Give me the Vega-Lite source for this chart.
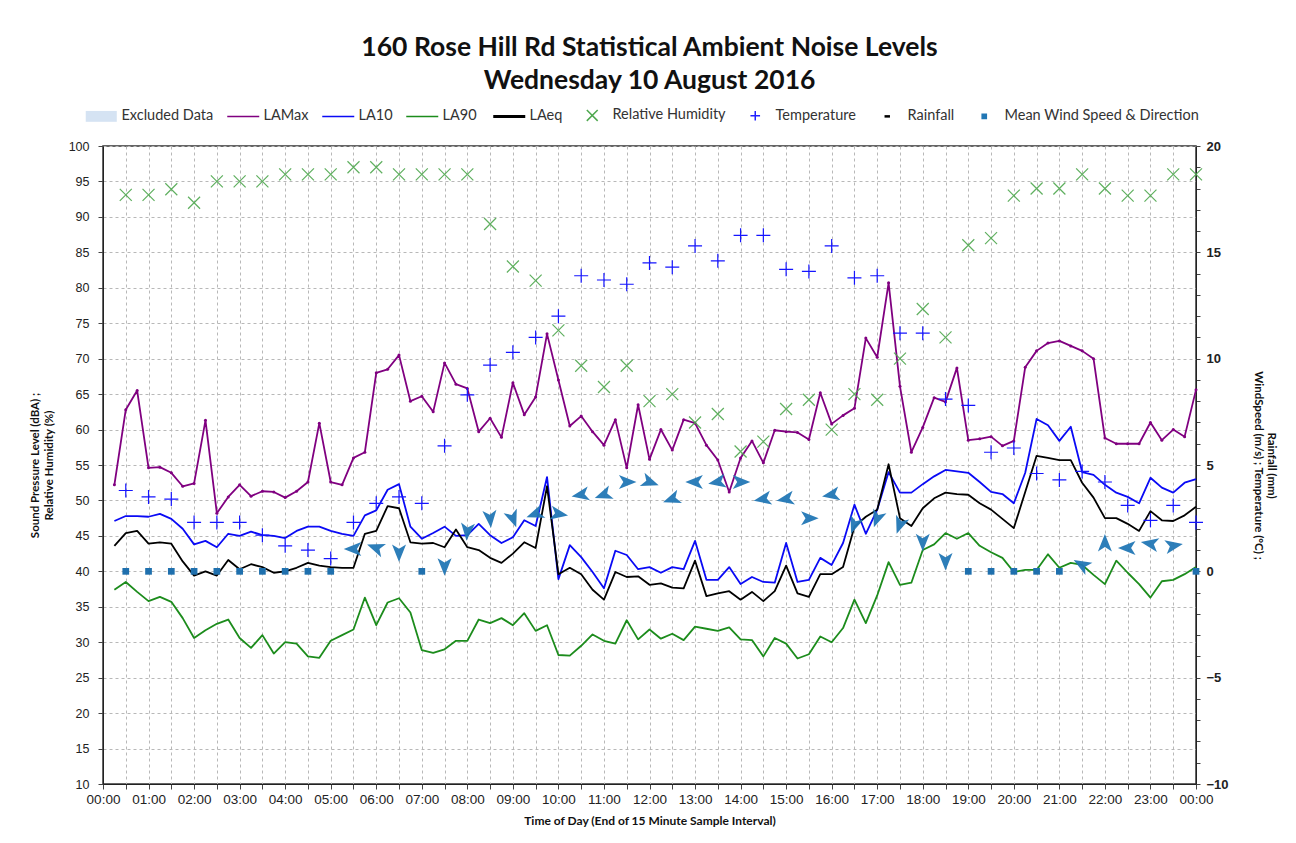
{
  "$schema": "https://vega.github.io/schema/vega-lite/v6.json",
  "width": 1093,
  "height": 638,
  "autosize": {"type": "none"},
  "padding": {"left": 103, "top": 146, "right": 100, "bottom": 59},
  "background": "white",
  "title": {
    "text": ["160 Rose Hill Rd Statistical Ambient Noise Levels", "Wednesday 10 August 2016"],
    "font": "Lato", "fontSize": 26.5, "fontWeight": "bold", "color": "#111",
    "lineHeight": 33, "anchor": "middle", "frame": "group", "offset": 14
  },
  "config": {
    "view": {"stroke": "#333", "strokeWidth": 1.5},
    "axis": {
      "labelFont": "Liberation Sans", "labelFontSize": 12.5, "labelColor": "#222",
      "titleFont": "Lato", "titleFontWeight": "bold", "titleFontSize": 11.5, "titleColor": "#111",
      "domainColor": "#222", "tickColor": "#444"
    }
  },
  "datasets": {
    "noise": [
      {"t":0.25,"LAMax":52.2,"LA10":47.1,"LA90":37.4,"LAeq":43.6},
      {"t":0.5,"LAMax":62.8,"LA10":47.8,"LA90":38.5,"LAeq":45.4},
      {"t":0.75,"LAMax":65.5,"LA10":47.8,"LA90":37.1,"LAeq":45.7},
      {"t":1.0,"LAMax":54.6,"LA10":47.7,"LA90":35.8,"LAeq":43.9},
      {"t":1.25,"LAMax":54.7,"LA10":48.1,"LA90":36.4,"LAeq":44.1},
      {"t":1.5,"LAMax":53.9,"LA10":47.4,"LA90":35.7,"LAeq":43.9},
      {"t":1.75,"LAMax":52.0,"LA10":46.0,"LA90":33.4,"LAeq":41.4},
      {"t":2.0,"LAMax":52.4,"LA10":43.8,"LA90":30.6,"LAeq":39.4},
      {"t":2.25,"LAMax":61.3,"LA10":44.3,"LA90":31.7,"LAeq":40.0},
      {"t":2.5,"LAMax":48.2,"LA10":43.4,"LA90":32.6,"LAeq":39.4},
      {"t":2.75,"LAMax":50.5,"LA10":45.3,"LA90":33.2,"LAeq":41.6},
      {"t":3.0,"LAMax":52.2,"LA10":45.0,"LA90":30.6,"LAeq":40.3},
      {"t":3.25,"LAMax":50.6,"LA10":45.6,"LA90":29.2,"LAeq":41.0},
      {"t":3.5,"LAMax":51.3,"LA10":45.1,"LA90":31.0,"LAeq":40.6},
      {"t":3.75,"LAMax":51.2,"LA10":45.0,"LA90":28.4,"LAeq":39.8},
      {"t":4.0,"LAMax":50.4,"LA10":44.7,"LA90":30.0,"LAeq":40.0},
      {"t":4.25,"LAMax":51.3,"LA10":45.7,"LA90":29.8,"LAeq":40.5},
      {"t":4.5,"LAMax":52.6,"LA10":46.3,"LA90":28.0,"LAeq":41.2},
      {"t":4.75,"LAMax":60.9,"LA10":46.3,"LA90":27.8,"LAeq":40.8},
      {"t":5.0,"LAMax":52.6,"LA10":45.7,"LA90":30.2,"LAeq":40.6},
      {"t":5.25,"LAMax":52.2,"LA10":45.3,"LA90":31.0,"LAeq":40.5},
      {"t":5.5,"LAMax":56.0,"LA10":45.0,"LA90":31.8,"LAeq":40.5},
      {"t":5.75,"LAMax":56.8,"LA10":47.9,"LA90":36.3,"LAeq":45.3},
      {"t":6.0,"LAMax":68.0,"LA10":48.6,"LA90":32.4,"LAeq":45.7},
      {"t":6.25,"LAMax":68.5,"LA10":51.5,"LA90":35.6,"LAeq":49.2},
      {"t":6.5,"LAMax":70.5,"LA10":52.3,"LA90":36.2,"LAeq":48.9},
      {"t":6.75,"LAMax":64.0,"LA10":46.3,"LA90":34.2,"LAeq":44.1},
      {"t":7.0,"LAMax":64.7,"LA10":44.6,"LA90":28.9,"LAeq":43.9},
      {"t":7.25,"LAMax":62.5,"LA10":45.4,"LA90":28.5,"LAeq":44.0},
      {"t":7.5,"LAMax":69.4,"LA10":46.3,"LA90":29.0,"LAeq":43.4},
      {"t":7.75,"LAMax":66.4,"LA10":45.0,"LA90":30.2,"LAeq":45.9},
      {"t":8.0,"LAMax":65.8,"LA10":45.1,"LA90":30.2,"LAeq":43.4},
      {"t":8.25,"LAMax":59.7,"LA10":46.7,"LA90":33.2,"LAeq":43.0},
      {"t":8.5,"LAMax":61.6,"LA10":45.1,"LA90":32.7,"LAeq":41.9},
      {"t":8.75,"LAMax":58.9,"LA10":44.0,"LA90":33.4,"LAeq":41.2},
      {"t":9.0,"LAMax":66.6,"LA10":44.8,"LA90":32.4,"LAeq":42.5},
      {"t":9.25,"LAMax":62.1,"LA10":47.2,"LA90":34.1,"LAeq":44.1},
      {"t":9.5,"LAMax":64.6,"LA10":46.4,"LA90":31.6,"LAeq":43.3},
      {"t":9.75,"LAMax":73.5,"LA10":53.3,"LA90":32.4,"LAeq":52.0},
      {"t":10.0,"LAMax":67.0,"LA10":38.9,"LA90":28.2,"LAeq":39.6},
      {"t":10.25,"LAMax":60.5,"LA10":43.7,"LA90":28.1,"LAeq":40.5},
      {"t":10.5,"LAMax":61.9,"LA10":42.0,"LA90":29.5,"LAeq":39.6},
      {"t":10.75,"LAMax":59.7,"LA10":39.9,"LA90":31.1,"LAeq":37.4},
      {"t":11.0,"LAMax":57.8,"LA10":37.6,"LA90":30.2,"LAeq":36.0},
      {"t":11.25,"LAMax":61.4,"LA10":42.9,"LA90":29.8,"LAeq":39.9},
      {"t":11.5,"LAMax":54.6,"LA10":42.3,"LA90":33.1,"LAeq":39.2},
      {"t":11.75,"LAMax":63.5,"LA10":40.3,"LA90":30.4,"LAeq":39.3},
      {"t":12.0,"LAMax":55.8,"LA10":40.6,"LA90":31.8,"LAeq":38.1},
      {"t":12.25,"LAMax":60.0,"LA10":39.8,"LA90":30.5,"LAeq":38.3},
      {"t":12.5,"LAMax":57.1,"LA10":40.6,"LA90":31.2,"LAeq":37.7},
      {"t":12.75,"LAMax":61.4,"LA10":40.3,"LA90":30.3,"LAeq":37.6},
      {"t":13.0,"LAMax":60.9,"LA10":44.3,"LA90":32.2,"LAeq":41.5},
      {"t":13.25,"LAMax":57.8,"LA10":38.8,"LA90":31.9,"LAeq":36.5},
      {"t":13.5,"LAMax":55.7,"LA10":38.8,"LA90":31.6,"LAeq":36.9},
      {"t":13.75,"LAMax":51.2,"LA10":40.6,"LA90":32.1,"LAeq":37.2},
      {"t":14.0,"LAMax":56.0,"LA10":38.2,"LA90":30.4,"LAeq":36.0},
      {"t":14.25,"LAMax":58.4,"LA10":39.2,"LA90":30.3,"LAeq":37.1},
      {"t":14.5,"LAMax":55.3,"LA10":38.5,"LA90":28.0,"LAeq":35.8},
      {"t":14.75,"LAMax":59.9,"LA10":38.4,"LA90":30.6,"LAeq":37.2},
      {"t":15.0,"LAMax":59.7,"LA10":44.0,"LA90":29.8,"LAeq":40.8},
      {"t":15.25,"LAMax":59.6,"LA10":38.5,"LA90":27.7,"LAeq":36.9},
      {"t":15.5,"LAMax":58.6,"LA10":38.8,"LA90":28.3,"LAeq":36.4},
      {"t":15.75,"LAMax":65.2,"LA10":41.9,"LA90":30.8,"LAeq":39.6},
      {"t":16.0,"LAMax":60.8,"LA10":40.9,"LA90":30.0,"LAeq":39.6},
      {"t":16.25,"LAMax":62.0,"LA10":44.0,"LA90":32.0,"LAeq":40.6},
      {"t":16.5,"LAMax":63.0,"LA10":49.4,"LA90":36.0,"LAeq":46.3},
      {"t":16.75,"LAMax":72.9,"LA10":45.3,"LA90":32.7,"LAeq":47.7},
      {"t":17.0,"LAMax":70.2,"LA10":48.7,"LA90":36.6,"LAeq":48.7},
      {"t":17.25,"LAMax":80.7,"LA10":54.0,"LA90":41.3,"LAeq":55.1},
      {"t":17.5,"LAMax":66.1,"LA10":51.1,"LA90":38.1,"LAeq":47.5},
      {"t":17.75,"LAMax":56.8,"LA10":51.1,"LA90":38.4,"LAeq":46.4},
      {"t":18.0,"LAMax":60.3,"LA10":52.3,"LA90":43.0,"LAeq":48.9},
      {"t":18.25,"LAMax":64.5,"LA10":53.4,"LA90":43.8,"LAeq":50.3},
      {"t":18.5,"LAMax":63.9,"LA10":54.3,"LA90":45.4,"LAeq":51.1},
      {"t":18.75,"LAMax":68.7,"LA10":54.1,"LA90":44.6,"LAeq":50.9},
      {"t":19.0,"LAMax":58.5,"LA10":53.9,"LA90":45.4,"LAeq":50.8},
      {"t":19.25,"LAMax":58.7,"LA10":52.6,"LA90":43.6,"LAeq":49.6},
      {"t":19.5,"LAMax":59.0,"LA10":51.2,"LA90":42.7,"LAeq":48.7},
      {"t":19.75,"LAMax":57.7,"LA10":50.9,"LA90":41.9,"LAeq":47.4},
      {"t":20.0,"LAMax":58.4,"LA10":49.6,"LA90":39.9,"LAeq":46.1},
      {"t":20.25,"LAMax":68.8,"LA10":53.9,"LA90":40.2,"LAeq":51.2},
      {"t":20.5,"LAMax":71.1,"LA10":61.5,"LA90":40.2,"LAeq":56.3},
      {"t":20.75,"LAMax":72.2,"LA10":60.6,"LA90":42.4,"LAeq":56.0},
      {"t":21.0,"LAMax":72.5,"LA10":58.4,"LA90":40.5,"LAeq":55.7},
      {"t":21.25,"LAMax":71.8,"LA10":60.4,"LA90":41.2,"LAeq":55.7},
      {"t":21.5,"LAMax":71.1,"LA10":54.0,"LA90":40.9,"LAeq":52.5},
      {"t":21.75,"LAMax":70.0,"LA10":53.6,"LA90":39.5,"LAeq":50.4},
      {"t":22.0,"LAMax":58.8,"LA10":52.2,"LA90":38.2,"LAeq":47.5},
      {"t":22.25,"LAMax":58.0,"LA10":51.1,"LA90":41.5,"LAeq":47.5},
      {"t":22.5,"LAMax":58.0,"LA10":50.5,"LA90":39.8,"LAeq":46.7},
      {"t":22.75,"LAMax":58.0,"LA10":49.6,"LA90":38.2,"LAeq":45.7},
      {"t":23.0,"LAMax":61.0,"LA10":53.2,"LA90":36.3,"LAeq":48.5},
      {"t":23.25,"LAMax":58.5,"LA10":51.8,"LA90":38.6,"LAeq":47.2},
      {"t":23.5,"LAMax":60.0,"LA10":51.1,"LA90":38.8,"LAeq":47.1},
      {"t":23.75,"LAMax":59.0,"LA10":52.5,"LA90":39.6,"LAeq":47.9},
      {"t":24.0,"LAMax":65.6,"LA10":53.0,"LA90":40.6,"LAeq":49.1}
    ],
    "weather": [
      {"t":0.5,"rh":93.1,"temp":3.8,"ws":0,"wd":0},
      {"t":1.0,"rh":93.1,"temp":3.5,"ws":0,"wd":0},
      {"t":1.5,"rh":93.9,"temp":3.4,"ws":0,"wd":0},
      {"t":2.0,"rh":92.0,"temp":2.3,"ws":0,"wd":0},
      {"t":2.5,"rh":95.0,"temp":2.3,"ws":0,"wd":0},
      {"t":3.0,"rh":95.0,"temp":2.3,"ws":0,"wd":0},
      {"t":3.5,"rh":95.0,"temp":1.7,"ws":0,"wd":0},
      {"t":4.0,"rh":96.0,"temp":1.2,"ws":0,"wd":0},
      {"t":4.5,"rh":96.0,"temp":1.0,"ws":0,"wd":0},
      {"t":5.0,"rh":96.0,"temp":0.6,"ws":0,"wd":0},
      {"t":5.5,"rh":97.0,"temp":2.3,"ws":1.05,"wd":270},
      {"t":6.0,"rh":97.0,"temp":3.2,"ws":1.1,"wd":290},
      {"t":6.5,"rh":96.0,"temp":3.5,"ws":0.9,"wd":180},
      {"t":7.0,"rh":96.0,"temp":3.2,"ws":0,"wd":0},
      {"t":7.5,"rh":96.0,"temp":5.9,"ws":0.25,"wd":180},
      {"t":8.0,"rh":96.0,"temp":8.3,"ws":1.9,"wd":185},
      {"t":8.5,"rh":89.0,"temp":9.7,"ws":2.5,"wd":175},
      {"t":9.0,"rh":83.0,"temp":10.3,"ws":2.5,"wd":160},
      {"t":9.5,"rh":81.0,"temp":11.0,"ws":2.7,"wd":250},
      {"t":10.0,"rh":74.0,"temp":12.0,"ws":2.7,"wd":100},
      {"t":10.5,"rh":69.0,"temp":13.9,"ws":3.6,"wd":260},
      {"t":11.0,"rh":66.0,"temp":13.7,"ws":3.6,"wd":250},
      {"t":11.5,"rh":69.0,"temp":13.5,"ws":4.2,"wd":90},
      {"t":12.0,"rh":64.0,"temp":14.5,"ws":4.2,"wd":110},
      {"t":12.5,"rh":65.0,"temp":14.3,"ws":3.4,"wd":250},
      {"t":13.0,"rh":61.0,"temp":15.3,"ws":4.2,"wd":270},
      {"t":13.5,"rh":62.2,"temp":14.6,"ws":4.2,"wd":260},
      {"t":14.0,"rh":56.9,"temp":15.8,"ws":4.2,"wd":90},
      {"t":14.5,"rh":58.3,"temp":15.8,"ws":3.4,"wd":260},
      {"t":15.0,"rh":62.9,"temp":14.2,"ws":3.4,"wd":260},
      {"t":15.5,"rh":64.2,"temp":14.1,"ws":2.5,"wd":90},
      {"t":16.0,"rh":60.0,"temp":15.3,"ws":3.6,"wd":260},
      {"t":16.5,"rh":65.0,"temp":13.8,"ws":2.2,"wd":200},
      {"t":17.0,"rh":64.2,"temp":13.9,"ws":2.5,"wd":200},
      {"t":17.5,"rh":70.0,"temp":11.2,"ws":2.2,"wd":200},
      {"t":18.0,"rh":77.0,"temp":11.2,"ws":1.4,"wd":180},
      {"t":18.5,"rh":73.0,"temp":8.1,"ws":0.5,"wd":180},
      {"t":19.0,"rh":86.0,"temp":7.8,"ws":0,"wd":0},
      {"t":19.5,"rh":87.0,"temp":5.6,"ws":0,"wd":0},
      {"t":20.0,"rh":93.0,"temp":5.8,"ws":0,"wd":0},
      {"t":20.5,"rh":94.0,"temp":4.6,"ws":0,"wd":0},
      {"t":21.0,"rh":94.0,"temp":4.3,"ws":0,"wd":0},
      {"t":21.5,"rh":96.0,"temp":4.7,"ws":0.3,"wd":300},
      {"t":22.0,"rh":94.0,"temp":4.2,"ws":1.3,"wd":0},
      {"t":22.5,"rh":93.0,"temp":3.1,"ws":1.1,"wd":270},
      {"t":23.0,"rh":93.0,"temp":2.4,"ws":1.3,"wd":280},
      {"t":23.5,"rh":96.0,"temp":3.1,"ws":1.2,"wd":80},
      {"t":24.0,"rh":96.0,"temp":2.3,"ws":0,"wd":0}
    ]
  },
  "encoding": {
    "x": {
      "field": "t", "type": "quantitative",
      "scale": {"domain": [0, 24], "nice": false, "zero": false},
      "axis": {
        "values": [0,0.5,1,1.5,2,2.5,3,3.5,4,4.5,5,5.5,6,6.5,7,7.5,8,8.5,9,9.5,10,10.5,11,11.5,12,12.5,13,13.5,14,14.5,15,15.5,16,16.5,17,17.5,18,18.5,19,19.5,20,20.5,21,21.5,22,22.5,23,23.5,24],
        "labelExpr": "datum.value % 1 === 0 ? (((datum.value % 24) < 10 ? '0' : '') + (datum.value % 24) + ':00') : ''",
        "labelOverlap": false, "labelFlush": false, "labelFontSize": 13.5,
        "grid": true, "gridDash": [3, 3], "gridColor": "#b8b8b8",
        "tickSize": 5, "labelPadding": 3,
        "title": "Time of Day (End of 15 Minute Sample Interval)", "titlePadding": 10, "titleFontSize": 12
      }
    }
  },
  "layer": [
    {
      "layer": [
        {
          "data": {"name": "noise"},
          "transform": [{"fold": ["LAMax", "LA10", "LA90", "LAeq"], "as": ["series", "value"]}],
          "mark": {"type": "line", "strokeJoin": "round"},
          "encoding": {
            "y": {"field": "value", "type": "quantitative", "scale": {"domain": [10, 100], "nice": false, "zero": false},
              "axis": {"orient": "left", "values": [10,15,20,25,30,35,40,45,50,55,60,65,70,75,80,85,90,95,100], "grid": true, "gridDash": [3, 3], "gridColor": "#b8b8b8", "tickSize": 5, "labelPadding": 9, "title": ["Sound Pressure Level (dBA) ;", "Relative Humidity (%)"], "titlePadding": 14}},
            "color": {"field": "series", "type": "nominal",
              "scale": {"domain": ["Excluded Data","LAMax","LA10","LA90","LAeq","Relative Humidity","Temperature","Rainfall","Mean Wind Speed & Direction"], "range": ["#D5E3F3","#800080","#0A0AF5","#1C8C1C","#000000","#4FA84F","#2020FF","#000000","#2277B5"]},
              "legend": {
                "orient": "none", "legendX": -9, "legendY": -38, "direction": "horizontal", "title": null,
                "symbolSize": 1024, "labelFont": "Lato", "labelFontSize": 14.5, "labelColor": "#333", "labelOffset": 13, "columnPadding": 10, "labelLimit": 400,
                "encode": {"symbols": {"update": {
                  "shape": {"signal": "datum.value === 'Excluded Data' ? 'M-0.97,-0.34H0.97V0.34H-0.97Z' : datum.value === 'Relative Humidity' ? 'M-1,0M1,0M-0.34,-0.34L0.34,0.34M-0.34,0.34L0.34,-0.34' : datum.value === 'Temperature' ? 'M-1,0M1,0M-0.3,0H0.3M0,-0.3V0.3' : datum.value === 'Rainfall' ? 'M-1,0M1,0M-0.17,0H0.17' : datum.value === 'Mean Wind Speed & Direction' ? 'M-1,0M1,0M-0.13,-0.13H0.13V0.13H-0.13Z' : 'M-1,0H1'"},
                  "size": {"value": 1024},
                  "stroke": {"signal": "scale('color', datum.value)"},
                  "fill": {"signal": "datum.value === 'Excluded Data' || datum.value === 'Mean Wind Speed & Direction' ? scale('color', datum.value) : 'transparent'"},
                  "strokeWidth": {"signal": "datum.value === 'LAeq' ? 3 : (datum.value === 'Rainfall' ? 2.5 : (datum.value === 'Excluded Data' ? 0 : 1.5))"},
                  "opacity": {"value": 1}
                }}}
              }},
            "strokeWidth": {"field": "series", "type": "nominal", "legend": null, "scale": {"domain": ["LAMax","LA10","LA90","LAeq"], "range": [1.8, 1.8, 1.8, 3]}}
          }
        },
        {
          "data": {"name": "noise"},
          "mark": {"type": "point", "filled": true, "size": 9, "color": "#800080", "opacity": 1},
          "encoding": {
            "y": {"field": "LAMax", "type": "quantitative", "scale": {"domain": [10, 100], "nice": false, "zero": false},
              "axis": {"orient": "left", "values": [10,15,20,25,30,35,40,45,50,55,60,65,70,75,80,85,90,95,100], "grid": true, "gridDash": [3, 3], "gridColor": "#b8b8b8", "tickSize": 5, "labelPadding": 9, "title": ["Sound Pressure Level (dBA) ;", "Relative Humidity (%)"], "titlePadding": 14}}
          }
        },
        {
          "data": {"name": "weather"},
          "mark": {"type": "point", "shape": "M-0.36,-0.36L0.36,0.36M-0.36,0.36L0.36,-0.36", "filled": false, "size": 1111, "strokeWidth": 1.2, "opacity": 0.9, "color": "#4FA84F"},
          "encoding": {
            "y": {"field": "rh", "type": "quantitative", "scale": {"domain": [10, 100], "nice": false, "zero": false},
              "axis": {"orient": "left", "values": [10,15,20,25,30,35,40,45,50,55,60,65,70,75,80,85,90,95,100], "grid": true, "gridDash": [3, 3], "gridColor": "#b8b8b8", "tickSize": 5, "labelPadding": 9, "title": ["Sound Pressure Level (dBA) ;", "Relative Humidity (%)"], "titlePadding": 14}}
          }
        }
      ]
    },
    {
      "layer": [
        {
          "data": {"name": "weather"},
          "mark": {"type": "point", "shape": "M-0.42,0H0.42M0,-0.42V0.42", "filled": false, "size": 1111, "strokeWidth": 1.2, "opacity": 1, "color": "#1515FF"},
          "encoding": {
            "y": {"field": "temp", "type": "quantitative", "scale": {"domain": [-10, 20], "nice": false, "zero": false},
              "axis": {"orient": "right", "values": [-10,-9,-8,-7,-6,-5,-4,-3,-2,-1,0,1,2,3,4,5,6,7,8,9,10,11,12,13,14,15,16,17,18,19,20], "labelExpr": "datum.value % 5 === 0 ? datum.label : ''", "labelFontWeight": "bold", "labelFontSize": 13, "grid": false, "tickSize": 4, "labelPadding": 6, "title": ["Rainfall (mm)", "WindSpeed (m/s) ; Temperature (°C) ;"], "titlePadding": 24}}
          }
        },
        {
          "data": {"name": "weather"},
          "transform": [{"filter": "datum.ws === 0"}],
          "mark": {"type": "point", "shape": "square", "filled": true, "size": 45, "color": "#1F70AE", "opacity": 1},
          "encoding": {
            "y": {"field": "ws", "type": "quantitative", "scale": {"domain": [-10, 20], "nice": false, "zero": false},
              "axis": {"orient": "right", "values": [-10,-9,-8,-7,-6,-5,-4,-3,-2,-1,0,1,2,3,4,5,6,7,8,9,10,11,12,13,14,15,16,17,18,19,20], "labelExpr": "datum.value % 5 === 0 ? datum.label : ''", "labelFontWeight": "bold", "labelFontSize": 13, "grid": false, "tickSize": 4, "labelPadding": 6, "title": ["Rainfall (mm)", "WindSpeed (m/s) ; Temperature (°C) ;"], "titlePadding": 24}}
          }
        },
        {
          "data": {"name": "weather"},
          "transform": [{"filter": "datum.ws > 0"}],
          "mark": {"type": "point", "shape": "M0,-1L0.72,0.8L0,0.35L-0.72,0.8Z", "filled": true, "size": 380, "color": "#2277B5", "opacity": 0.95},
          "encoding": {
            "y": {"field": "ws", "type": "quantitative", "scale": {"domain": [-10, 20], "nice": false, "zero": false},
              "axis": {"orient": "right", "values": [-10,-9,-8,-7,-6,-5,-4,-3,-2,-1,0,1,2,3,4,5,6,7,8,9,10,11,12,13,14,15,16,17,18,19,20], "labelExpr": "datum.value % 5 === 0 ? datum.label : ''", "labelFontWeight": "bold", "labelFontSize": 13, "grid": false, "tickSize": 4, "labelPadding": 6, "title": ["Rainfall (mm)", "WindSpeed (m/s) ; Temperature (°C) ;"], "titlePadding": 24}},
            "angle": {"field": "wd", "type": "quantitative", "scale": {"domain": [0, 360], "range": [0, 360]}, "legend": null}
          }
        }
      ]
    }
  ],
  "resolve": {"scale": {"y": "independent"}}
}
